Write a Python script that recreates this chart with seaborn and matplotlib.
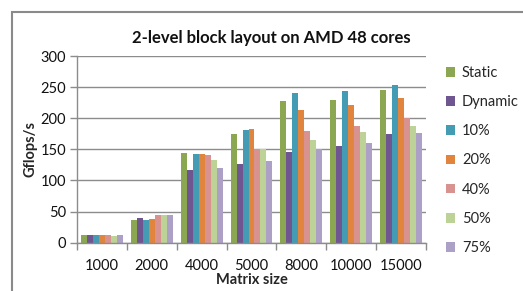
import matplotlib
matplotlib.use("Agg")
import matplotlib.pyplot as plt
import seaborn as sns
import pandas as pd
from matplotlib.patches import Rectangle, Patch

sizes = ["1000", "2000", "4000", "5000", "8000", "10000", "15000"]
series = ["Static", "Dynamic", "10%", "20%", "40%", "50%", "75%"]
static = [13, 37, 144, 175, 228, 230, 245]
dynamic = [12, 40, 117, 126, 145, 155, 175]
p10 = [13, 37, 143, 181, 240, 243, 254]
p20 = [12, 38, 143, 183, 214, 221, 233]
p40 = [12, 44, 141, 150, 179, 188, 200]
p50 = [10, 44, 133, 150, 165, 178, 188]
p75 = [12, 45, 120, 132, 150, 161, 176]
colors = ["#8BA752", "#6F5690", "#449CB4", "#E0843E", "#D89390", "#BDD297", "#ADA0C6"]

vals = [static, dynamic, p10, p20, p40, p50, p75]
rows = []
for s, v in zip(series, vals):
    for c, x in zip(sizes, v):
        rows.append({"Matrix size": c, "Series": s, "Gflops/s": x})
df = pd.DataFrame(rows)

sns.set_theme(style="white")
plt.rcParams["font.family"] = ["Lato", "DejaVu Sans"]

fig = plt.figure(figsize=(5.23, 2.91), dpi=100)
ax = fig.add_axes([77/523, 1-242.7/291, (426-77)/523, (242.7-56)/291])

sns.barplot(data=df, x="Matrix size", y="Gflops/s", hue="Series", order=sizes,
            hue_order=series, palette=colors, width=0.84, saturation=1,
            ax=ax, legend=False, linewidth=0)

ax.set_ylim(0, 300)
ax.set_xlim(-0.5, 6.5)
ax.set_yticks(range(0, 301, 50))
ax.yaxis.grid(True, color="#8c8c8c", linewidth=1)
ax.set_axisbelow(True)
for sp in ["top", "right"]:
    ax.spines[sp].set_visible(False)
for sp in ["left", "bottom"]:
    ax.spines[sp].set_color("#8c8c8c")
    ax.spines[sp].set_linewidth(1)

ax.set_xticks(range(7))
ax.set_xticklabels(sizes, fontsize=10.5, color="#111111")
ax.set_xticks([i - 0.5 for i in range(8)], minor=True)
ax.tick_params(axis="x", which="major", length=0, pad=12)
ax.tick_params(axis="x", which="minor", length=5, color="#8c8c8c", width=1, direction="out", bottom=True)
ax.tick_params(axis="y", length=5, color="#8c8c8c", width=1, direction="out", left=True, labelsize=10.5, labelcolor="#111111", pad=3)

ax.set_xlabel("Matrix size", fontsize=10.5, fontweight="bold", labelpad=0)
ax.set_ylabel("Gflops/s", fontsize=10.5, fontweight="bold", labelpad=2)
fig.text(271/523, 1 - 38/291, "2-level block layout on AMD 48 cores",
         ha="center", va="center", fontsize=12, fontweight="bold", color="#111111")

handles = [Patch(facecolor=c, edgecolor="none") for c in colors]
fig.legend(handles, series, loc="upper left", bbox_to_anchor=(446/523, 1-66/291),
           frameon=False, fontsize=10.5, handlelength=0.65, handleheight=0.65,
           handletextpad=0.45, labelspacing=1.04, borderpad=0, borderaxespad=0)

fig.patches.append(Rectangle((12/523, -0.1), 1.2, 1.1 - 12/291,
                             transform=fig.transFigure, fill=False,
                             edgecolor="#8a8a8a", linewidth=1.5))

fig.savefig("out.png", dpi=100)
